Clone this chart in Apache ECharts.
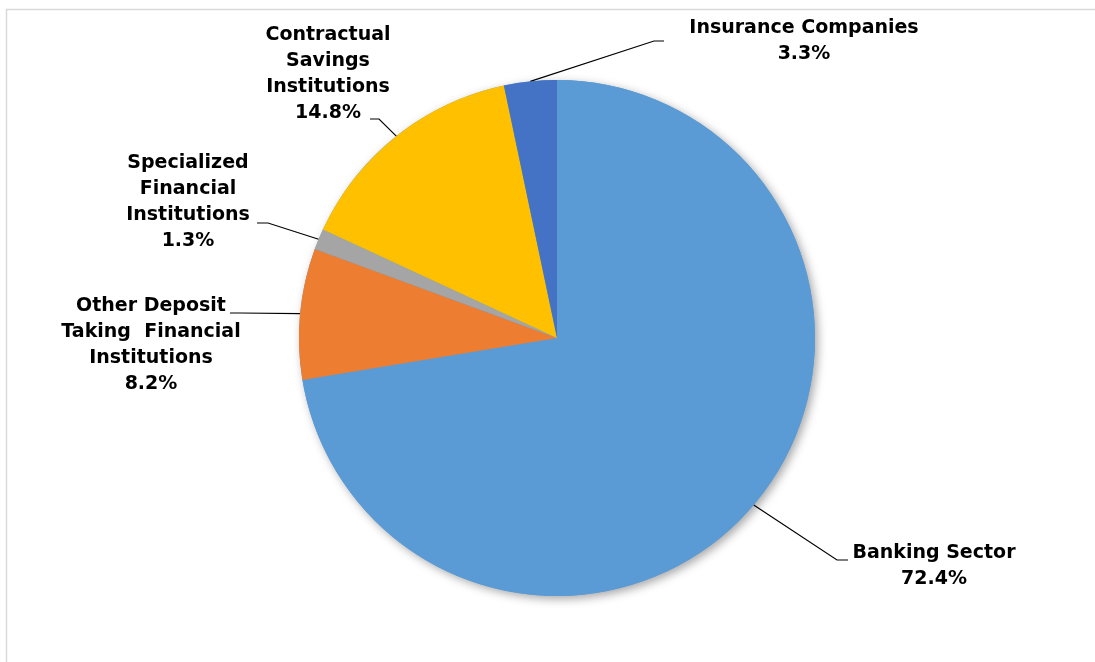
<!DOCTYPE html>
<html>
<head>
<meta charset="utf-8">
<script src="https://cdn.jsdelivr.net/npm/echarts@6/dist/echarts.min.js"></script>
<style>
html,body{margin:0;padding:0;background:#fff;}
#main{width:1095px;height:662px;}
</style>
</head>
<body>
<div id="main"></div>
<script>
// ---- data ----
var categories = [
  'Banking Sector',
  'Other Deposit\nTaking  Financial\nInstitutions',
  'Specialized\nFinancial\nInstitutions',
  'Contractual\nSavings\nInstitutions',
  'Insurance Companies'
];
var shares = [72.4, 8.2, 1.3, 14.8, 3.3];
var colors = ['#5B9BD5', '#ED7D31', '#A5A5A5', '#FFC000', '#4472C4'];

// ---- label layout (style, not data) ----
var labelPlace = [
  {x: 934,   y: 566, end: [848, 560], bend: -11},
  {x: 151,   y: 345, end: [230, 313], bend: 10},
  {x: 188,   y: 202, end: [257, 223], bend: 11},
  {x: 328,   y: 74,  end: [370, 119], bend: 9},
  {x: 804,   y: 41,  end: [664, 41],  bend: -10}
];

var chart = echarts.init(document.getElementById('main'), null, {renderer: 'canvas'});
var total = shares.reduce(function (a, b) { return a + b; }, 0);

var option = {
  animation: false,
  backgroundColor: '#ffffff',
  graphic: [{
    type: 'rect',
    shape: {x: 6.5, y: 9.5, width: 1200, height: 800},
    style: {fill: 'none', stroke: '#d9d9d9', lineWidth: 1.5},
    silent: true
  }],
  series: [
    {
      type: 'pie',
      silent: true,
      z: 1,
      center: [557, 338],
      radius: 258,
      data: [{value: total, name: ''}],
      label: {show: false},
      labelLine: {show: false},
      itemStyle: {
        color: '#5B9BD5',
        shadowBlur: 10,
        shadowColor: 'rgba(0,0,0,0.35)',
        shadowOffsetX: 3,
        shadowOffsetY: 3
      }
    },
    {
      type: 'pie',
      z: 2,
      center: [557, 338],
      radius: 258,
      startAngle: 90,
      clockwise: true,
      data: categories.map(function (c, i) {
        return {name: c, value: shares[i], itemStyle: {color: colors[i]}};
      }),
      itemStyle: {borderWidth: 0},
      label: {
        show: true,
        position: 'outside',
        formatter: function (p) { return p.name + '\n' + p.value.toFixed(1) + '%'; },
        fontFamily: 'DejaVu Sans',
        fontWeight: 'bold',
        fontSize: 19,
        lineHeight: 26,
        color: '#000000',
        align: 'center'
      },
      labelLine: {
        show: true,
        lineStyle: {color: '#000000', width: 1.2}
      },
      labelLayout: function (params) {
        var lp = labelPlace[params.dataIndex];
        var p0 = params.labelLinePoints ? params.labelLinePoints[0] : lp.end;
        return {
          x: lp.x,
          y: lp.y,
          align: 'center',
          verticalAlign: 'middle',
          labelLinePoints: [p0, [lp.end[0] + lp.bend, lp.end[1]], lp.end]
        };
      }
    }
  ]
};
chart.setOption(option);
</script>
</body>
</html>
